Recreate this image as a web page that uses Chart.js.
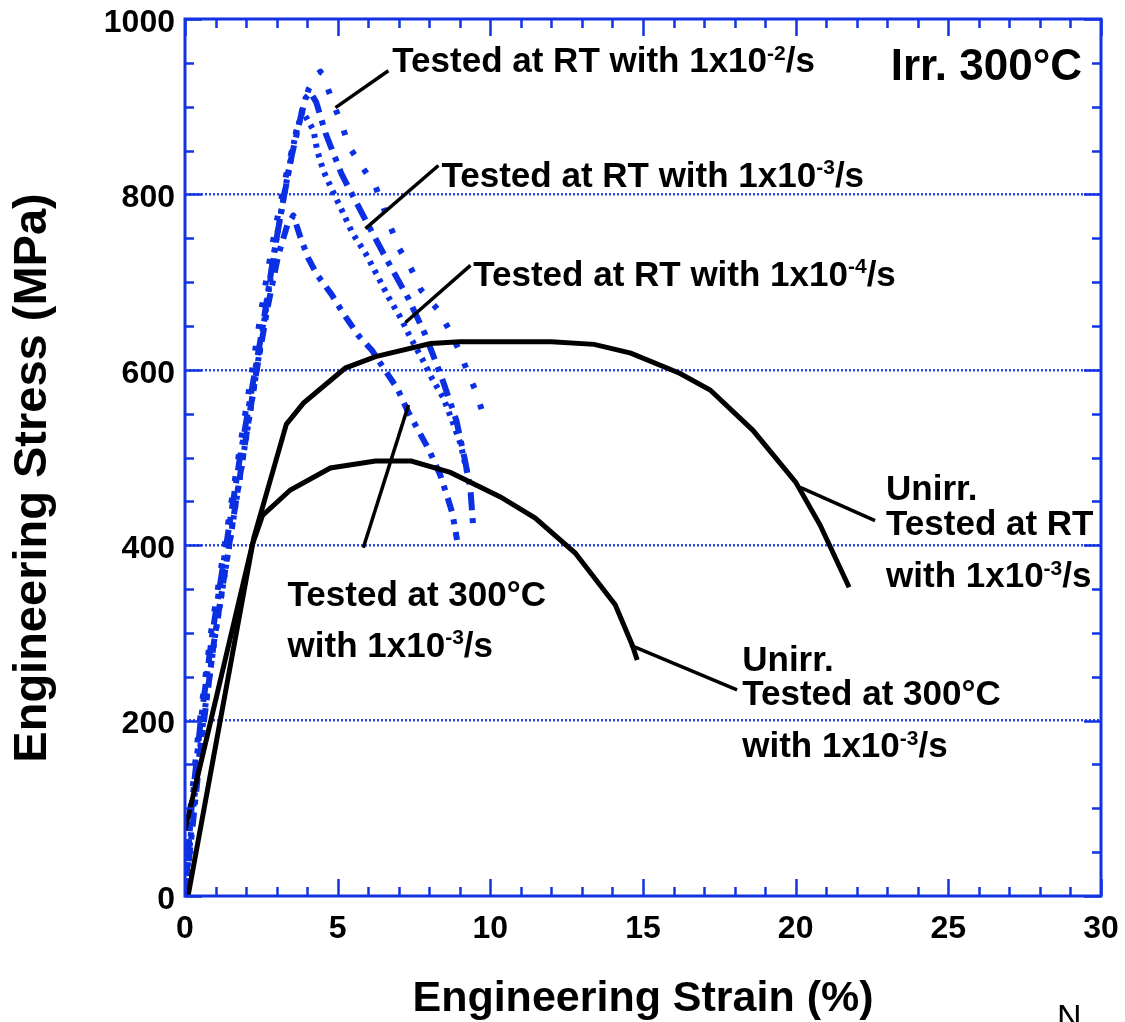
<!DOCTYPE html>
<html>
<head>
<meta charset="utf-8">
<title>Engineering stress-strain curves, Irr. 300°C</title>
<script src="https://cdn.jsdelivr.net/npm/chart.js@4.4.1/dist/chart.umd.min.js"></script>
<style>
  html, body { margin: 0; padding: 0; background: #ffffff; }
  #wrap { width: 1125px; height: 1022px; position: relative; }
</style>
</head>
<body>
<div id="wrap"><canvas id="chart" width="1125" height="1022"></canvas></div>
<script>
// ---- Data: engineering strain (%) and engineering stress (MPa) ----

// Unirradiated, tested at RT, 1x10^-3/s
const unirrRTStrain = [0.1, 2.25, 3.32, 3.88, 5.25, 6.24, 8.04, 9.0, 12.0, 13.4, 14.6, 16.2, 17.2, 18.6, 20.0, 20.8, 21.75];
const unirrRTStress = [0, 408, 538, 562, 602, 615, 630, 632, 632, 629, 619, 596, 577, 531, 472, 423, 352];

// Unirradiated, tested at 300°C, 1x10^-3/s
const unirr300Strain = [0, 2.2, 2.54, 3.45, 4.76, 6.24, 7.41, 8.69, 10.33, 11.47, 12.78, 14.09, 14.65, 14.81];
const unirr300Stress = [75, 400, 434, 463, 488, 496, 496, 483, 455, 431, 391, 332, 286, 269];

// Irradiated at 300°C, tested at RT, 1x10^-2/s
const irrRT2Strain = [0, 0.15, 0.45, 0.85, 1.3, 1.75, 2.2, 2.6, 2.95, 3.3, 3.7, 4.05, 4.3, 4.44, 4.62, 4.89, 5.16, 5.38, 5.81, 6.24, 6.49, 6.73, 7.02, 7.41, 7.73, 8.27, 8.65, 8.98, 9.24, 9.53, 9.74];
const irrRT2Stress = [0, 90, 190, 300, 400, 500, 600, 690, 760, 820, 880, 920, 936, 940, 926, 901, 877, 854, 831, 809, 786, 763, 738, 715, 691, 669, 646, 622, 599, 575, 552];

// Irradiated at 300°C, tested at RT, 1x10^-3/s
const irrRT3Strain = [0, 0.2, 0.5, 0.9, 1.35, 1.8, 2.25, 2.55, 2.9, 3.2, 3.5, 3.8, 3.95, 4.11, 4.3, 4.6, 5.13, 5.85, 6.57, 7.32, 7.87, 8.43, 8.89, 9.18, 9.35, 9.44];
const irrRT3Stress = [0, 95, 195, 300, 400, 500, 590, 650, 730, 790, 845, 890, 910, 916, 905, 870, 823, 775, 728, 681, 640, 589, 542, 495, 463, 420];

// Irradiated at 300°C, tested at RT, 1x10^-4/s
const irrRT4Strain = [0, 0.3, 0.6, 1.0, 1.45, 1.9, 2.35, 2.7, 3.0, 3.3, 3.6, 3.85, 3.98, 4.21, 4.33, 4.53, 4.82, 5.19, 5.48, 5.91, 6.29, 6.66, 7.05, 7.38, 7.76, 8.09, 8.46, 8.75, 9.02, 9.25];
const irrRT4Stress = [0, 110, 200, 300, 400, 500, 600, 680, 750, 810, 865, 895, 887, 873, 850, 827, 805, 778, 756, 733, 708, 683, 660, 637, 613, 590, 568, 542, 516, 482];

// Irradiated at 300°C, tested at 300°C, 1x10^-3/s
const irr300Strain = [0, 0.25, 0.55, 0.95, 1.4, 1.85, 2.3, 2.7, 3.05, 3.35, 3.55, 3.78, 4.04, 4.33, 4.80, 5.19, 5.68, 6.13, 6.50, 6.95, 7.28, 7.64, 8.0, 8.36, 8.63, 8.76, 8.91];
const irr300Stress = [0, 80, 180, 290, 390, 490, 590, 670, 730, 765, 776, 751, 727, 708, 686, 664, 639, 622, 602, 579, 554, 531, 508, 480, 451, 436, 406];

// Axis ranges and tick steps
const xRange = [0, 30];
const yRange = [0, 1000];
const xMajorStep = 5, xMinorStep = 1;
const yMajorStep = 200, yMinorStep = 50;

// Callout labels: anchor = [strain, stress] of the text's left baseline; {..} marks a superscript
const calloutTexts = [
  { at: [6.79, 939], lines: ['Tested at RT with 1x10{-2}/s'] },
  { at: [8.40, 809], lines: ['Tested at RT with 1x10{-3}/s'] },
  { at: [9.44, 696], lines: ['Tested at RT with 1x10{-4}/s'] },
  { at: [3.36, 331], lines: ['Tested at 300°C', 'with 1x10{-3}/s'], gaps: [51] },
  { at: [22.96, 451], lines: ['Unirr.', 'Tested at RT', 'with 1x10{-3}/s'], gaps: [35, 52] },
  { at: [18.25, 256], lines: ['Unirr.', 'Tested at 300°C', 'with 1x10{-3}/s'], gaps: [34, 52] }
];
// Leader lines from callouts to curves: [fromStrain, fromStress, toStrain, toStress]
const leaderLines = [
  [6.66, 941, 4.93, 899],
  [8.30, 833, 5.91, 761],
  [9.35, 719, 7.22, 654],
  [5.84, 397, 7.32, 560],
  [22.6, 428, 20.15, 466],
  [18.08, 235, 14.58, 286]
];
const panelTitle = 'Irr. 300°C';
const yTitle = 'Engineering Stress (MPa)';

// ---- Styling ----
const FONT = "'Liberation Sans', Arial, Helvetica, sans-serif";
const AXIS_BLUE = '#1232e4';
const DATA_BLUE = '#0b2fe2';
const GRID_BLUE = '#2847e6';

function pairs(xs, ys) {
  return xs.map((v, i) => ({ x: v, y: ys[i] }));
}

function blackCurve(label, xs, ys) {
  return {
    label, data: pairs(xs, ys), showLine: true, pointRadius: 0,
    borderColor: '#000000', borderWidth: 5, borderJoinStyle: 'miter', tension: 0, fill: false
  };
}
function blueCurve(label, xs, ys, dash) {
  return {
    label, data: pairs(xs, ys), showLine: true, pointRadius: 0,
    borderColor: DATA_BLUE, borderWidth: 6, borderDash: dash, borderCapStyle: 'butt',
    borderJoinStyle: 'round', tension: 0, fill: false
  };
}

// Box frame with inward ticks on all four sides
const frameTicks = {
  id: 'frameTicks',
  afterDatasetsDraw(chart) {
    const { ctx, chartArea: a, scales: { x, y } } = chart;
    ctx.save();
    ctx.strokeStyle = AXIS_BLUE;
    ctx.lineWidth = 2.5;
    ctx.lineCap = 'butt';
    const seg = (x1, y1, x2, y2) => { ctx.beginPath(); ctx.moveTo(x1, y1); ctx.lineTo(x2, y2); ctx.stroke(); };
    for (let v = xRange[0]; v <= xRange[1] + 1e-9; v += xMinorStep) {
      const px = Math.round(x.getPixelForValue(v)) + 0.5;
      const len = (Math.abs(v % xMajorStep) < 1e-9) ? 17 : 9;
      seg(px, a.bottom, px, a.bottom - len);
      seg(px, a.top, px, a.top + len);
    }
    for (let v = yRange[0]; v <= yRange[1] + 1e-9; v += yMinorStep) {
      const py = Math.round(y.getPixelForValue(v)) + 0.5;
      const len = (Math.abs(v % yMajorStep) < 1e-9) ? 17 : 9;
      seg(a.left, py, a.left + len, py);
      seg(a.right, py, a.right - len, py);
    }
    ctx.lineWidth = 3;
    ctx.strokeRect(a.left, a.top, a.right - a.left, a.bottom - a.top);
    ctx.restore();
  }
};

// Draws a line of text where {...} parts are raised superscripts
function drawRichText(ctx, str, x, y, size) {
  const parts = str.split(/(\{[^}]*\})/).filter(s => s.length);
  let cx = x;
  for (const p of parts) {
    if (p.startsWith('{')) {
      const t = p.slice(1, -1);
      ctx.font = `bold ${Math.round(size * 0.6)}px ${FONT}`;
      ctx.fillText(t, cx, y - size * 0.36);
      cx += ctx.measureText(t).width;
    } else {
      ctx.font = `bold ${size}px ${FONT}`;
      ctx.fillText(p, cx, y);
      cx += ctx.measureText(p).width;
    }
  }
}

const callouts = {
  id: 'callouts',
  afterDraw(chart) {
    const { ctx, scales: { x, y }, chartArea: a } = chart;
    ctx.save();
    ctx.strokeStyle = '#000000';
    ctx.lineWidth = 3.5;
    ctx.lineCap = 'butt';
    for (const [x1, y1, x2, y2] of leaderLines) {
      ctx.beginPath();
      ctx.moveTo(x.getPixelForValue(x1), y.getPixelForValue(y1));
      ctx.lineTo(x.getPixelForValue(x2), y.getPixelForValue(y2));
      ctx.stroke();
    }
    ctx.fillStyle = '#000000';
    ctx.textBaseline = 'alphabetic';
    ctx.textAlign = 'left';
    for (const c of calloutTexts) {
      const px = x.getPixelForValue(c.at[0]);
      let py = y.getPixelForValue(c.at[1]);
      c.lines.forEach((line, i) => {
        if (i > 0) py += c.gaps[i - 1];
        drawRichText(ctx, line, px, py, 35);
      });
    }
    // panel title in the upper-right corner
    ctx.font = `bold 44px ${FONT}`;
    ctx.textAlign = 'right';
    ctx.fillText(panelTitle, a.right - 19, a.top + 61);
    // vertical axis title, rotated
    ctx.save();
    ctx.translate(33, 478);
    ctx.rotate(-Math.PI / 2);
    ctx.font = `bold 47px ${FONT}`;
    ctx.textAlign = 'center';
    ctx.textBaseline = 'middle';
    ctx.fillText(yTitle, 0, 0);
    ctx.restore();
    // stray glyph below the frame
    ctx.font = `34px ${FONT}`;
    ctx.textAlign = 'left';
    ctx.fillText('N', 1057, 1028);
    ctx.restore();
  }
};

new Chart(document.getElementById('chart'), {
  type: 'scatter',
  data: {
    datasets: [
      blackCurve('Unirr. RT 1x10^-3/s', unirrRTStrain, unirrRTStress),
      blackCurve('Unirr. 300°C 1x10^-3/s', unirr300Strain, unirr300Stress),
      blueCurve('Irr. RT 1x10^-2/s', irrRT2Strain, irrRT2Stress, [5, 17]),
      blueCurve('Irr. RT 1x10^-3/s', irrRT3Strain, irrRT3Stress, [18, 8, 5, 8]),
      blueCurve('Irr. RT 1x10^-4/s', irrRT4Strain, irrRT4Stress, [4, 6]),
      blueCurve('Irr. 300°C 1x10^-3/s', irr300Strain, irr300Stress, [14, 8, 5, 8])
    ]
  },
  options: {
    responsive: false,
    devicePixelRatio: 1,
    animation: false,
    layout: { padding: { left: 0, right: 24, top: 19, bottom: 0 } },
    plugins: { legend: { display: false }, tooltip: { enabled: false } },
    scales: {
      x: {
        type: 'linear', position: 'bottom', min: xRange[0], max: xRange[1],
        ticks: { stepSize: xMajorStep, color: '#000', padding: 14, maxRotation: 0,
                 callback: v => String(v),
                 font: { family: FONT, size: 32, weight: 'bold' } },
        grid: { display: false, drawTicks: false },
        border: { display: false },
        title: { display: true, text: 'Engineering Strain (%)', color: '#000',
                 font: { family: FONT, size: 43, weight: 'bold', lineHeight: 1 },
                 padding: { top: 0, bottom: 1 } },
        afterFit(s) { s.height = 126; s.paddingLeft = 0; s.paddingRight = 0; }
      },
      y: {
        type: 'linear', position: 'left', min: yRange[0], max: yRange[1],
        ticks: { stepSize: yMajorStep, color: '#000', padding: 10, labelOffset: 4,
                 callback: v => String(v),
                 font: { family: FONT, size: 32, weight: 'bold' } },
        grid: {
          drawTicks: false, lineWidth: 2.5,
          color: c => (c.tick && c.tick.value > yRange[0] && c.tick.value < yRange[1]) ? GRID_BLUE : 'rgba(0,0,0,0)'
        },
        border: { display: false, dash: [2, 2] },
        title: { display: false },
        afterFit(s) { s.width = 185; s.paddingTop = 0; s.paddingBottom = 0; }
      }
    }
  },
  plugins: [frameTicks, callouts]
});
</script>
</body>
</html>
